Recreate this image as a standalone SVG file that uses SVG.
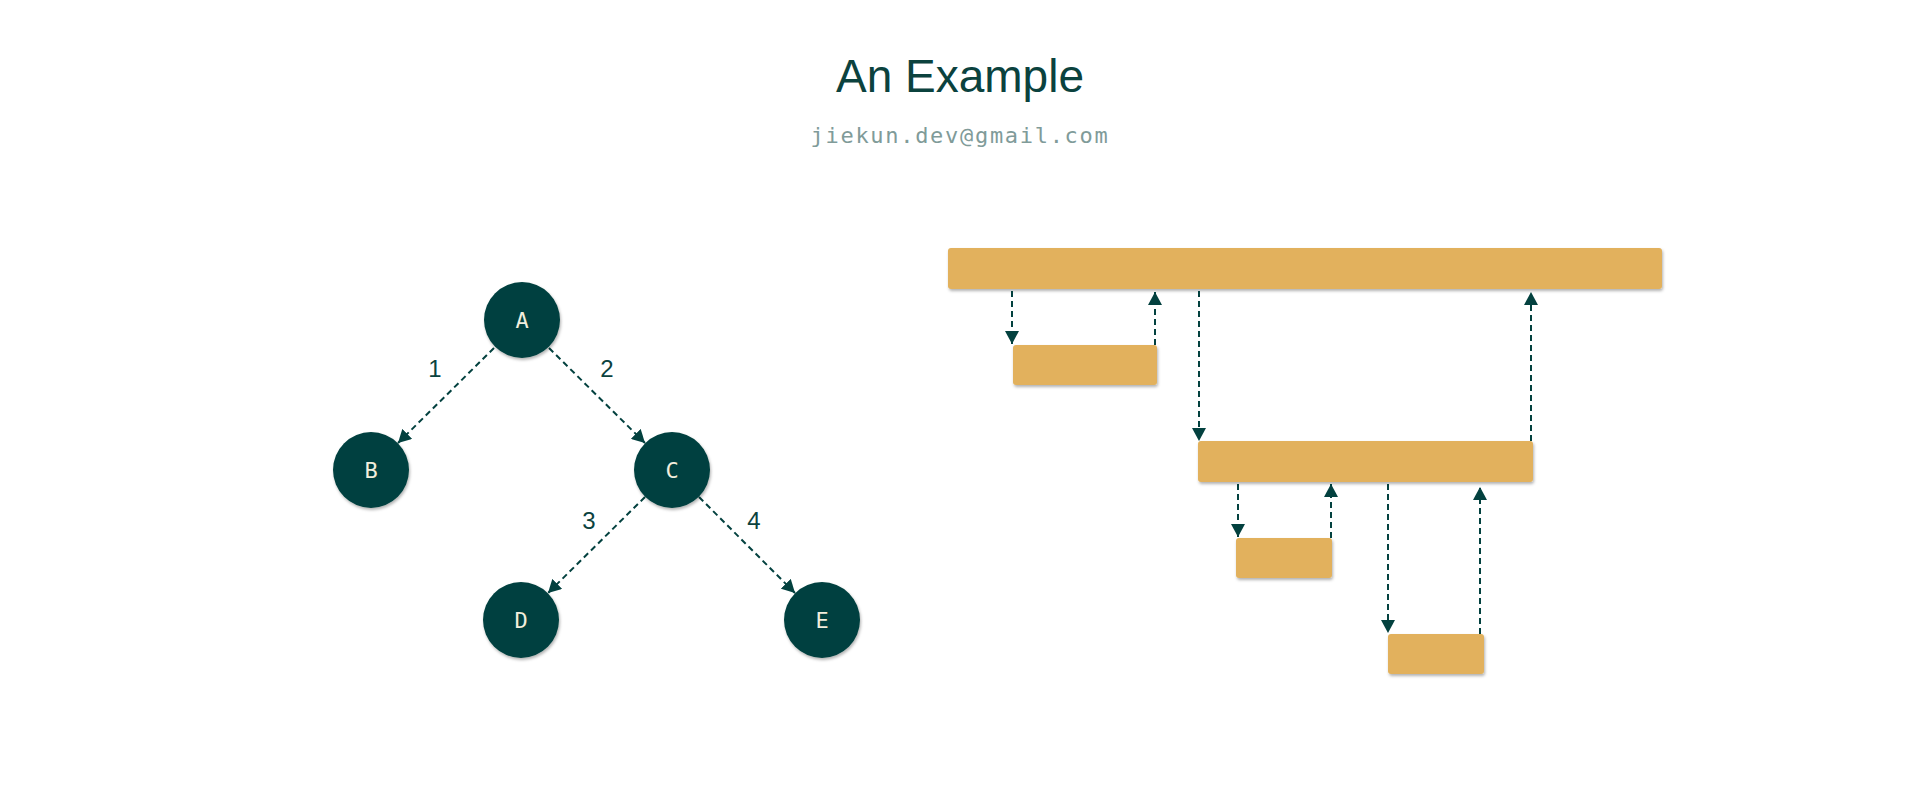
<svg xmlns="http://www.w3.org/2000/svg" width="1920" height="800" viewBox="0 0 1920 800">
<style>
.title{font-family:"Liberation Sans",Arial,sans-serif;font-size:46px;fill:#0b423e;text-anchor:middle}
.sub{font-family:"DejaVu Sans Mono","Liberation Mono",monospace;font-size:22px;letter-spacing:1.7px;fill:#809b99;text-anchor:middle}
.node circle{fill:#03413f;filter:url(#sh)}
.node text{font-family:"DejaVu Sans Mono","Liberation Mono",monospace;font-size:22px;fill:#f2eedd;text-anchor:middle}
.bar{fill:#e2b15d;filter:url(#sh)}
.edge{stroke:#03413f;stroke-width:2;stroke-dasharray:6 4;fill:none;marker-end:url(#ah)}
.elab{font-family:"Liberation Sans",Arial,sans-serif;font-size:24px;fill:#0b423e;text-anchor:middle}
</style>
<defs>
<filter id="sh" x="-20%" y="-20%" width="140%" height="150%">
<feDropShadow dx="1" dy="2" stdDeviation="1.5" flood-color="#000" flood-opacity="0.3"/>
</filter>
<marker id="ah" markerUnits="userSpaceOnUse" markerWidth="14" markerHeight="14" refX="13" refY="7" orient="auto">
<path d="M0,0 L13,7 L0,14 z" fill="#03413f"/>
</marker>
</defs>
<rect width="1920" height="800" fill="#fff"/>
<text class="title" x="960" y="92">An Example</text>
<text class="sub" x="960" y="143">jiekun.dev@gmail.com</text>

<g id="tree-edges">
<line class="edge" x1="494" y1="348" x2="398" y2="443"/>
<line class="edge" x1="549" y1="348" x2="645" y2="443"/>
<line class="edge" x1="645" y1="497" x2="548" y2="593"/>
<line class="edge" x1="699" y1="497" x2="795" y2="593"/>
<text class="elab" x="435" y="377">1</text>
<text class="elab" x="607" y="377">2</text>
<text class="elab" x="589" y="529">3</text>
<text class="elab" x="754" y="529">4</text>
</g>
<g id="node-A" class="node"><circle cx="522" cy="320" r="38"/><text x="522" y="328">A</text></g>
<g id="node-B" class="node"><circle cx="371" cy="470" r="38"/><text x="371" y="478">B</text></g>
<g id="node-C" class="node"><circle cx="672" cy="470" r="38"/><text x="672" y="478">C</text></g>
<g id="node-D" class="node"><circle cx="521" cy="620" r="38"/><text x="521" y="628">D</text></g>
<g id="node-E" class="node"><circle cx="822" cy="620" r="38"/><text x="822" y="628">E</text></g>

<g id="bar-1"><rect class="bar" x="948" y="248" width="714" height="41" rx="3"/></g>
<g id="bar-2"><rect class="bar" x="1013" y="345" width="144" height="40" rx="3"/></g>
<g id="bar-3"><rect class="bar" x="1198" y="441" width="335" height="41" rx="3"/></g>
<g id="bar-4"><rect class="bar" x="1236" y="538" width="96" height="40" rx="3"/></g>
<g id="bar-5"><rect class="bar" x="1388" y="634" width="96" height="40" rx="3"/></g>

<g id="bar-connectors">
<line class="edge" x1="1012" y1="291" x2="1012" y2="344"/>
<line class="edge" x1="1155" y1="345" x2="1155" y2="292"/>
<line class="edge" x1="1199" y1="291" x2="1199" y2="441"/>
<line class="edge" x1="1531" y1="441" x2="1531" y2="292"/>
<line class="edge" x1="1238" y1="484" x2="1238" y2="537"/>
<line class="edge" x1="1331" y1="538" x2="1331" y2="484"/>
<line class="edge" x1="1388" y1="484" x2="1388" y2="633"/>
<line class="edge" x1="1480" y1="634" x2="1480" y2="487"/>
</g>
</svg>
